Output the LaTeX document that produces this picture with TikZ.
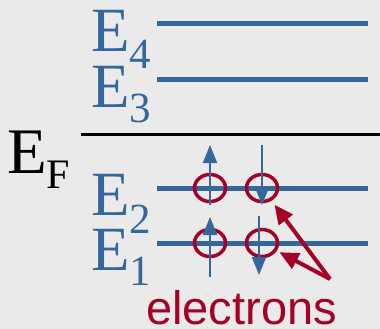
\documentclass[tikz,border=0pt]{standalone}
\usepackage{fontspec}
\setmainfont{Liberation Serif}
\setsansfont{Liberation Sans}
\usepackage{tikz}
\usetikzlibrary{arrows.meta,shapes.geometric}
\definecolor{LevelBlue}{HTML}{34679C}
\definecolor{SpinRed}{HTML}{A60026}
\definecolor{PaneGray}{HTML}{EAEAEA}
\newcommand{\lvlname}[2]{{\fontsize{63}{63}\selectfont E}\smash{\raisebox{-#2pt}{\fontsize{43}{43}\selectfont #1}}}

\begin{document}
\begin{tikzpicture}[x=1pt,y=-1pt,>=Latex,
  level/.style={LevelBlue,line width=5pt},
  spin/.style={LevelBlue,line width=2pt,-{Triangle[width=14pt,length=18pt]}},
  ring/.style={ellipse,draw=SpinRed,line width=3.5pt,minimum width=31pt,minimum height=27pt,inner sep=0pt},
  pointer/.style={SpinRed,line width=4pt,-{Triangle[width=17pt,length=19pt]}}]
  \fill[PaneGray] (0,0) rectangle (380,329);
  \useasboundingbox (0,0) rectangle (380,329);
  % energy levels
  \foreach \y in {24,79,188,243}
    \draw[level] (157,\y) -- (368,\y);
  \draw[black,line width=3pt] (81,134) -- (380,134);
  % labels
  \foreach \n/\y/\d in {4/52/17,3/107/15,2/215/18,1/270/15}
    \node[anchor=base west,inner sep=0pt,LevelBlue] (lbl\n) at (91,\y) {\lvlname{\n}{\d}};
  \node[anchor=base west,inner sep=0pt] (lblF) at (7,173)
    {{\fontsize{65}{65}\selectfont E}\smash{\raisebox{-15pt}{\fontsize{42}{42}\selectfont F}}};
  % occupied states
  \node[ring] (r2u) at (210,188) {};
  \node[ring] (r2d) at (262,188) {};
  \node[ring] (r1u) at (210,243) {};
  \node[ring] (r1d) at (262,243) {};
  \draw[spin] (210,205) -- (210,145);
  \draw[spin] (262,145) -- (262,205);
  \draw[spin] (210,277) -- (210,217);
  \draw[spin] (259,216) -- (259,275);
  % caption
  \node[anchor=base west,inner sep=0pt,SpinRed,font=\sffamily\fontsize{47}{47}\selectfont]
    (elec) at (146,324) {electrons};
  \coordinate (ptr) at (330,279);
  \draw[pointer,shorten >=5pt] (ptr) -- (r2d);
  \draw[pointer,shorten >=3pt] (ptr) -- (r1d);
\end{tikzpicture}
\end{document}
